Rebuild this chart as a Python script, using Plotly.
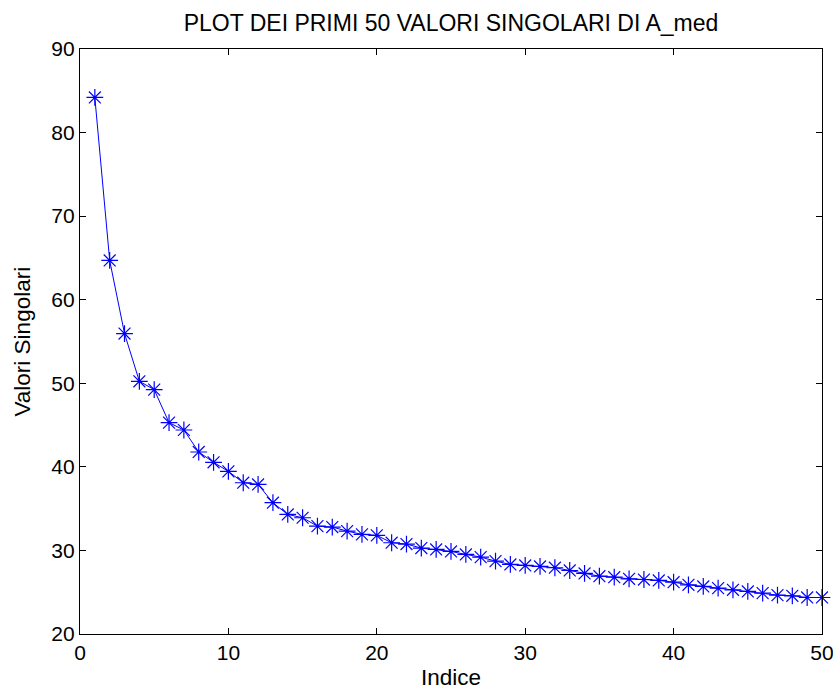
import plotly.graph_objects as go

indice = list(range(1, 51))
valori = [84.2, 64.7, 55.95, 50.24, 49.24, 45.29, 44.41, 41.78, 40.54, 39.46,
          38.1, 37.9, 35.71, 34.31, 33.91, 32.91, 32.8, 32.31, 31.92, 31.8,
          30.92, 30.76, 30.28, 30.12, 29.88, 29.52, 29.2, 28.72, 28.32, 28.2,
          28.08, 27.93, 27.6, 27.25, 26.92, 26.8, 26.6, 26.52, 26.41, 26.2,
          25.89, 25.69, 25.49, 25.29, 25.09, 24.89, 24.65, 24.57, 24.37, 24.37]

x_ticks = [0, 10, 20, 30, 40, 50]
y_ticks = [20, 30, 40, 50, 60, 70, 80, 90]

fam = "Liberation Sans, Arial, sans-serif"
tick_font = dict(family=fam, size=21, color="black")
title_font = dict(family=fam, size=22.5, color="black")

fig = go.Figure()
fig.add_trace(go.Scatter(
    x=indice, y=valori, mode="lines+markers",
    line=dict(color="#0000ff", width=1),
    marker=dict(symbol="asterisk-open", size=14, color="#0000ff",
                line=dict(color="#0000ff", width=1.2)),
    showlegend=False,
    cliponaxis=False,
))

axis_common = dict(
    showgrid=False, zeroline=False, showline=True, linecolor="black",
    linewidth=1.3, mirror="ticks", ticks="inside", ticklen=6, tickcolor="black",
    tickfont=tick_font, automargin=False, ticklabeloverflow="allow",
)

fig.update_layout(
    width=833, height=689,
    paper_bgcolor="white", plot_bgcolor="white",
    margin=dict(l=80, r=11, t=49, b=55),
    font=tick_font,
    title=dict(text="PLOT DEI PRIMI 50 VALORI SINGOLARI DI A_med",
               x=0.5, xanchor="center", y=1 - 23 / 689, yanchor="middle",
               xref="paper", font=dict(family=fam, size=23, color="black")),
    xaxis=dict(range=[0, 50], tickvals=x_ticks, **axis_common),
    yaxis=dict(range=[20, 90], tickvals=y_ticks, **axis_common),
    annotations=[
        dict(text="Indice", xref="paper", yref="paper", x=0.5, y=0,
             yshift=-43, xanchor="center", yanchor="middle",
             showarrow=False, font=title_font),
        dict(text="Valori Singolari", xref="paper", yref="paper", x=0, y=0.5,
             xshift=-58, xanchor="center", yanchor="middle", textangle=-90,
             showarrow=False, font=title_font),
    ],
)

fig.write_html("out.html")
